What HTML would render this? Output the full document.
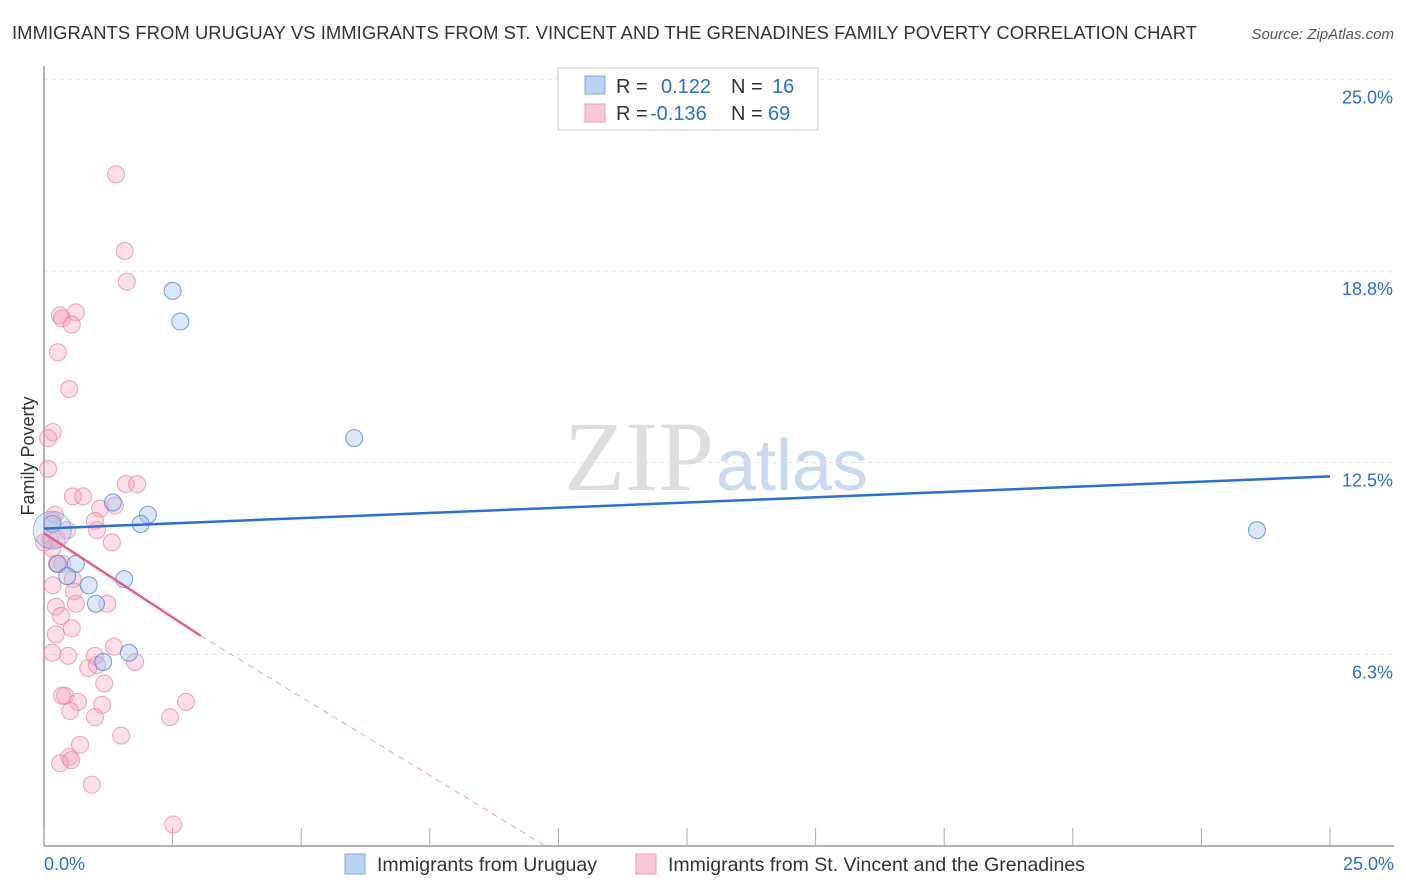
<!DOCTYPE html>
<html><head><meta charset="utf-8"><style>
body{margin:0;background:#fff;font-family:"Liberation Sans",sans-serif;}
svg{display:block}
</style></head><body>
<svg id="c" width="1406" height="892">
<text x="12" y="39" font-size="18.4" fill="#333" textLength="1185">IMMIGRANTS FROM URUGUAY VS IMMIGRANTS FROM ST. VINCENT AND THE GRENADINES FAMILY POVERTY CORRELATION CHART</text>
<text x="1394" y="39" font-size="15" fill="#555" text-anchor="end" font-style="italic">Source: ZipAtlas.com</text>
<text x="714" y="490" font-size="100" fill="#ddd" text-anchor="end" font-family="Liberation Serif,serif">ZIP</text>
<text x="716" y="490" font-size="72" fill="#c9d9ef">atlas</text>
<text x="34" y="456" font-size="18" fill="#333" text-anchor="middle" transform="rotate(-90 34 456)">Family Poverty</text>
<g id="grid"></g><g id="pts"></g><g id="lines"></g>
<g>
<rect x="558" y="68" width="260" height="62" fill="#fff" stroke="#ccc"/>
<rect x="585" y="76" width="20" height="18" fill="#b9d3f5" stroke="#7ea8e0"/>
<rect x="585" y="104" width="20" height="18" fill="#f9c7d6" stroke="#ee9db6"/>
<text x="616" y="93" font-size="20" fill="#333">R = <tspan fill="#2a6fd6" x="661">0.122</tspan><tspan fill="#333" x="731">N = </tspan><tspan fill="#2a6fd6" x="772">16</tspan></text>
<text x="616" y="120" font-size="20" fill="#333">R = <tspan fill="#2a6fd6" x="650">-0.136</tspan><tspan fill="#333" x="731">N = </tspan><tspan fill="#2a6fd6" x="768">69</tspan></text>
</g>
<g>
<rect x="345" y="854" width="20" height="20" fill="#b9d3f5" stroke="#7ea8e0"/>
<text x="377" y="871" font-size="19.5" fill="#333">Immigrants from Uruguay</text>
<rect x="636" y="854" width="20" height="20" fill="#f9c7d6" stroke="#ee9db6"/>
<text x="668" y="871" font-size="19.5" fill="#333">Immigrants from St. Vincent and the Grenadines</text>
</g>
<text x="44" y="870" font-size="18" fill="#2a6fd6">0.0%</text>
<text x="1394" y="870" font-size="18" fill="#2a6fd6" text-anchor="end">25.0%</text>
</svg>
<script>
const yTicks=[25,18.75,12.5,6.25];
const yTickLabels=["25.0%","18.8%","12.5%","6.3%"];
const xTicks=[0,2.5,5,7.5,10,12.5,15,17.5,20,22.5,25];
const uruguayX=[2.5,2.65,6.03,23.58,1.34,2.02,1.88,0.16,0.62,0.27,0.45,0.87,1.56,1.01,1.65,1.15];
const uruguayY=[18.1,17.1,13.3,10.3,11.2,10.8,10.5,10.5,9.2,9.2,8.8,8.5,8.7,7.9,6.3,6.0];
const svincentX=[1.4,1.57,1.61,0.31,0.62,0.35,0.54,0.27,0.49,0.17,0.08,0.08,0.56,0.76,1.59,1.81,1.38,1.09,0.99,1.03,0.45,0.21,0.17,0.12,0.25,0.16,0.0,0.35,0.25,1.32,0.56,0.17,0.58,0.62,1.23,0.23,0.33,0.54,0.23,1.36,0.16,0.47,0.99,1.77,0.86,1.03,1.17,0.41,0.35,0.66,2.76,1.13,0.51,0.99,2.45,1.5,0.7,0.49,0.53,0.31,0.93,2.51];
const svincentY=[21.9,19.4,18.4,17.3,17.4,17.2,17.0,16.1,14.9,13.5,13.3,12.3,11.4,11.4,11.8,11.8,11.1,11.0,10.6,10.3,10.3,10.8,10.6,10.0,10.0,9.7,9.9,9.2,9.2,9.9,8.7,8.5,8.3,7.9,7.9,7.8,7.5,7.1,6.9,6.5,6.3,6.2,6.2,6.0,5.8,5.9,5.3,4.9,4.9,4.7,4.7,4.6,4.4,4.2,4.2,3.6,3.3,2.9,2.8,2.7,2.0,0.7];
const blueLine=[[0,10.35],[25,12.05]];
const pinkSolid=[[0,10.2],[3.05,6.85]];
const pinkDash=[[3.05,6.85],[9.75,0]];
const X=v=>44+v*51.44, Y=v=>846-v*30.67;
const NS="http://www.w3.org/2000/svg";
function mk(t,a,p){const e=document.createElementNS(NS,t);for(const k in a)e.setAttribute(k,a[k]);p.appendChild(e);return e;}
const g=document.getElementById('grid');
yTicks.forEach((t,i)=>{const l=mk('line',{x1:44,x2:1394,y1:Y(t),y2:Y(t),stroke:'#ddd','stroke-dasharray':'4,4'},g);


const tx=mk('text',{x:1393,y:Y(t)+24,'font-size':18,fill:'#2a6fd6','text-anchor':'end'},g);tx.textContent=yTickLabels[i];

});
const ax=mk('line',{x1:44,x2:44,y1:66,y2:846,stroke:'#999','stroke-width':1.5},g);


const bx=mk('line',{x1:44,x2:1394,y1:846,y2:846,stroke:'#999','stroke-width':1.5},g);


xTicks.forEach(t=>{const l=mk('line',{x1:X(t),x2:X(t),y1:828,y2:846,stroke:'#aaa'},g);

});
const P=document.getElementById('pts');
svincentX.forEach((x,i)=>{const c=mk('circle',{cx:X(x),cy:Y(svincentY[i]),r:8.5,fill:'rgba(244,160,186,0.35)',stroke:'rgba(232,130,162,0.7)'},P);

});
uruguayX.forEach((x,i)=>{const c=mk('circle',{cx:X(x),cy:Y(uruguayY[i]),r:8.5,fill:'rgba(160,196,240,0.4)',stroke:'rgba(70,130,220,0.75)'},P);

});
const big=mk('circle',{cx:X(0.16),cy:Y(10.3),r:19,fill:'rgba(160,196,240,0.3)',stroke:'rgba(70,130,220,0.5)'},P);


const L=document.getElementById('lines');
const b=mk('line',{x1:X(blueLine[0][0]),y1:Y(blueLine[0][1]),x2:X(blueLine[1][0]),y2:Y(blueLine[1][1]),stroke:'#2a6fd6','stroke-width':2.5},L);


const p1=mk('line',{x1:X(pinkSolid[0][0]),y1:Y(pinkSolid[0][1]),x2:X(pinkSolid[1][0]),y2:Y(pinkSolid[1][1]),stroke:'#e0628d','stroke-width':2.5},L);


const p2=mk('line',{x1:X(pinkDash[0][0]),y1:Y(pinkDash[0][1]),x2:X(pinkDash[1][0]),y2:Y(pinkDash[1][1]),stroke:'#eea0b8','stroke-width':1,'stroke-dasharray':'6,5'},L);


</script>
</body></html>
